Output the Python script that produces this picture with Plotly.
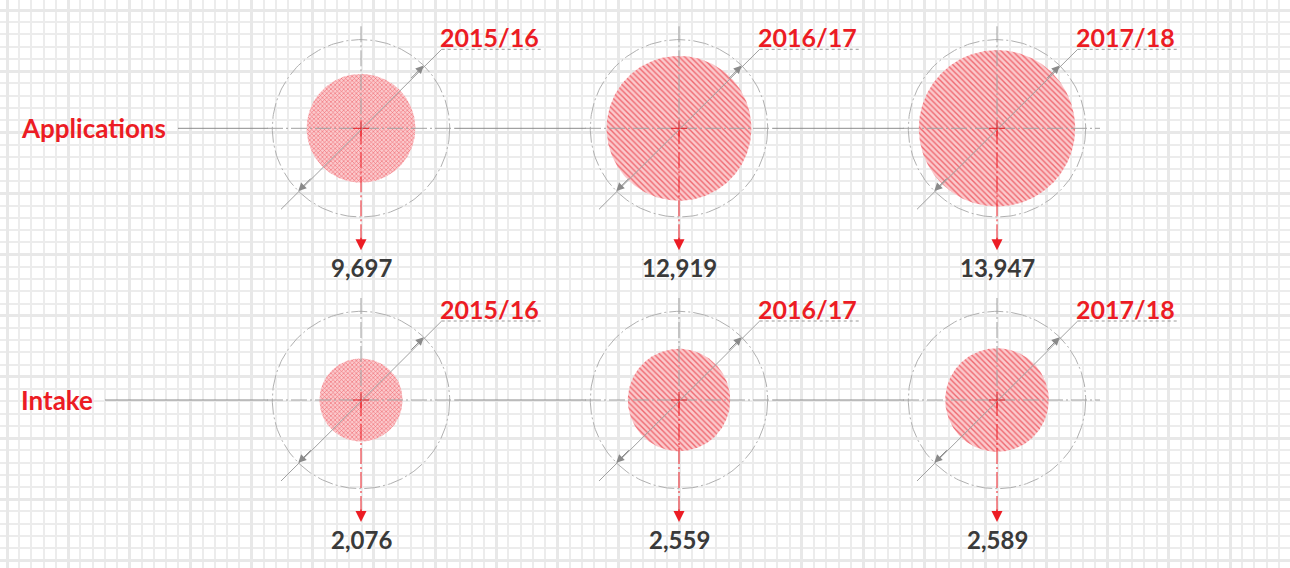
import numpy as np
import plotly.graph_objects as go

# ---- data ----
years = ["2015/16", "2016/17", "2017/18"]
row_labels = ["Applications", "Intake"]
applications = [9697, 12919, 13947]
intake = [2076, 2559, 2589]
rows = [applications, intake]

# ---- layout / style constants ----
W, H = 1290, 568
COL_X = [361, 679, 997]
ROW_Y = [128.3, 400]
ROW_RMAX = [78.2, 51.8]          # radius (px) of the largest value in each row
OUTER_R = 88.7
LABEL_LINE_START = [178, 105]
RED = "#ec1c24"
GRAY = "#9a9a9a"
DARK = "#3a3a3a"
FONT = "Lato"
DASHDOT = "16px,3px,2px,3px"

fig = go.Figure()
shapes = []
annotations = []


def seg(x0, y0, x1, y1, color=GRAY, width=1, dash="solid"):
    shapes.append(dict(type="line", xref="x", yref="y", x0=x0, y0=y0, x1=x1, y1=y1,
                       line=dict(color=color, width=width, dash=dash), layer="above"))


theta = np.linspace(0, 2 * np.pi, 241)
patterns = [["x", "\\", "\\"], ["x", "\\", "\\"]]

for r_i, (label, values) in enumerate(zip(row_labels, rows)):
    cy = ROW_Y[r_i]
    scale = ROW_RMAX[r_i] / max(values)
    # row label
    annotations.append(dict(x=19, y=cy, xref="x", yref="y", text=label, showarrow=False,
                            xanchor="left", yanchor="middle",
                            font=dict(family=FONT, size=26, color=RED, weight="bold")))
    # connecting solid lines
    seg(LABEL_LINE_START[r_i], cy, COL_X[0] - 93, cy, color="#8a8a8a")
    for i in range(len(values) - 1):
        seg(COL_X[i] + 94, cy, COL_X[i + 1] - 93, cy, color="#8a8a8a")

    for i, (yr, v) in enumerate(zip(years, values)):
        cx = COL_X[i]
        r = v * scale
        # filled value circle
        fig.add_trace(go.Scatter(
            x=cx + r * np.cos(theta), y=cy + r * np.sin(theta),
            mode="lines", fill="toself", line=dict(width=0, color="rgba(0,0,0,0)"),
            fillcolor="#fbcdd0",
            fillpattern=dict(shape=patterns[r_i][i], size=4 if patterns[r_i][i] == "\\" else 3,
                             solidity=0.35, fgcolor="#ef6870", bgcolor="#fbc9cc",
                             fillmode="replace"),
            hoverinfo="skip", showlegend=False))
        # outer dash-dot circle
        fig.add_trace(go.Scatter(
            x=cx + OUTER_R * np.cos(theta), y=cy + OUTER_R * np.sin(theta),
            mode="lines", line=dict(width=1, color="#b0b0b0", dash=DASHDOT),
            hoverinfo="skip", showlegend=False))
        # horizontal centre line
        right = 103 if i == len(values) - 1 else 94
        seg(cx - 94, cy, cx + right, cy, color="#a0a0a0", dash=DASHDOT)
        # vertical centre line (gray above, red below)
        seg(cx, cy - 102, cx, cy, color="#a0a0a0", dash=DASHDOT)
        seg(cx, cy, cx, cy + 114, color=RED, dash=DASHDOT)
        # red centre cross
        seg(cx - 8, cy, cx + 8, cy, color=RED)
        seg(cx, cy - 8, cx, cy + 8, color=RED)
        # diagonal dimension line + leader
        seg(cx - 80, cy + 81, cx + 80.7, cy - 79, color="#a0a0a0")
        seg(cx + 80.7, cy - 79, cx + 181, cy - 79, color="#9a9a9a", dash="dot")
        d = OUTER_R / np.sqrt(2)
        for sx in (1, -1):
            annotations.append(dict(x=cx + sx * d, y=cy - sx * d, ax=cx + sx * (d - 14),
                                    ay=cy - sx * (d - 14), xref="x", yref="y", axref="x",
                                    ayref="y", text="", showarrow=True, arrowhead=2,
                                    arrowsize=1.6, arrowwidth=1, arrowcolor="#8a8a8a",
                                    standoff=0))
        # red down arrow head
        annotations.append(dict(x=cx, y=cy + 122, ax=cx, ay=cy + 108, xref="x", yref="y",
                                axref="x", ayref="y", text="", showarrow=True, arrowhead=2,
                                arrowsize=1.7, arrowwidth=1.3, arrowcolor=RED, standoff=0))
        # year label
        annotations.append(dict(x=cx + 180, y=cy - 91, xref="x", yref="y", text=yr,
                                showarrow=False, xanchor="right", yanchor="middle",
                                font=dict(family=FONT, size=25, color=RED, weight="bold")))
        # value label
        annotations.append(dict(x=cx, y=cy + 139, xref="x", yref="y", text=f"{v:,}",
                                showarrow=False, xanchor="center", yanchor="middle",
                                font=dict(family=FONT, size=24, color=DARK, weight="bold")))

# darker separator line between the two rows
shapes.append(dict(type="line", xref="x", yref="y", x0=7, x1=W, y0=315.75, y1=315.75,
                   line=dict(color="#d6d6d6", width=2), layer="below"))

MAJOR = 61.15
MINOR = MAJOR / 5
fig.update_layout(
    width=W, height=H, margin=dict(l=0, r=0, t=0, b=0),
    paper_bgcolor="white", plot_bgcolor="white",
    shapes=shapes, annotations=annotations, showlegend=False,
    xaxis=dict(range=[0, W], showticklabels=False, zeroline=False, ticks="",
               tick0=7, dtick=MAJOR, showgrid=True, gridcolor="#e8e8e8", gridwidth=2.8,
               minor=dict(tick0=7, dtick=MINOR, showgrid=True, gridcolor="#ececec",
                          gridwidth=1.8), fixedrange=True),
    yaxis=dict(range=[H, 0], showticklabels=False, zeroline=False, ticks="",
               tick0=10, dtick=MAJOR, showgrid=True, gridcolor="#e8e8e8", gridwidth=2.8,
               minor=dict(tick0=10, dtick=MINOR, showgrid=True, gridcolor="#ececec",
                          gridwidth=1.8), fixedrange=True),
)
# white strip left of / above the grid border
fig.add_shape(type="rect", xref="x", yref="y", x0=0, x1=5.5, y0=0, y1=H,
              fillcolor="white", line_width=0, layer="below")
fig.add_shape(type="rect", xref="x", yref="y", x0=0, x1=W, y0=0, y1=8.5,
              fillcolor="white", line_width=0, layer="below")

fig.write_html("out.html", config={"displayModeBar": False},
               post_script="document.body.style.margin='0';")
